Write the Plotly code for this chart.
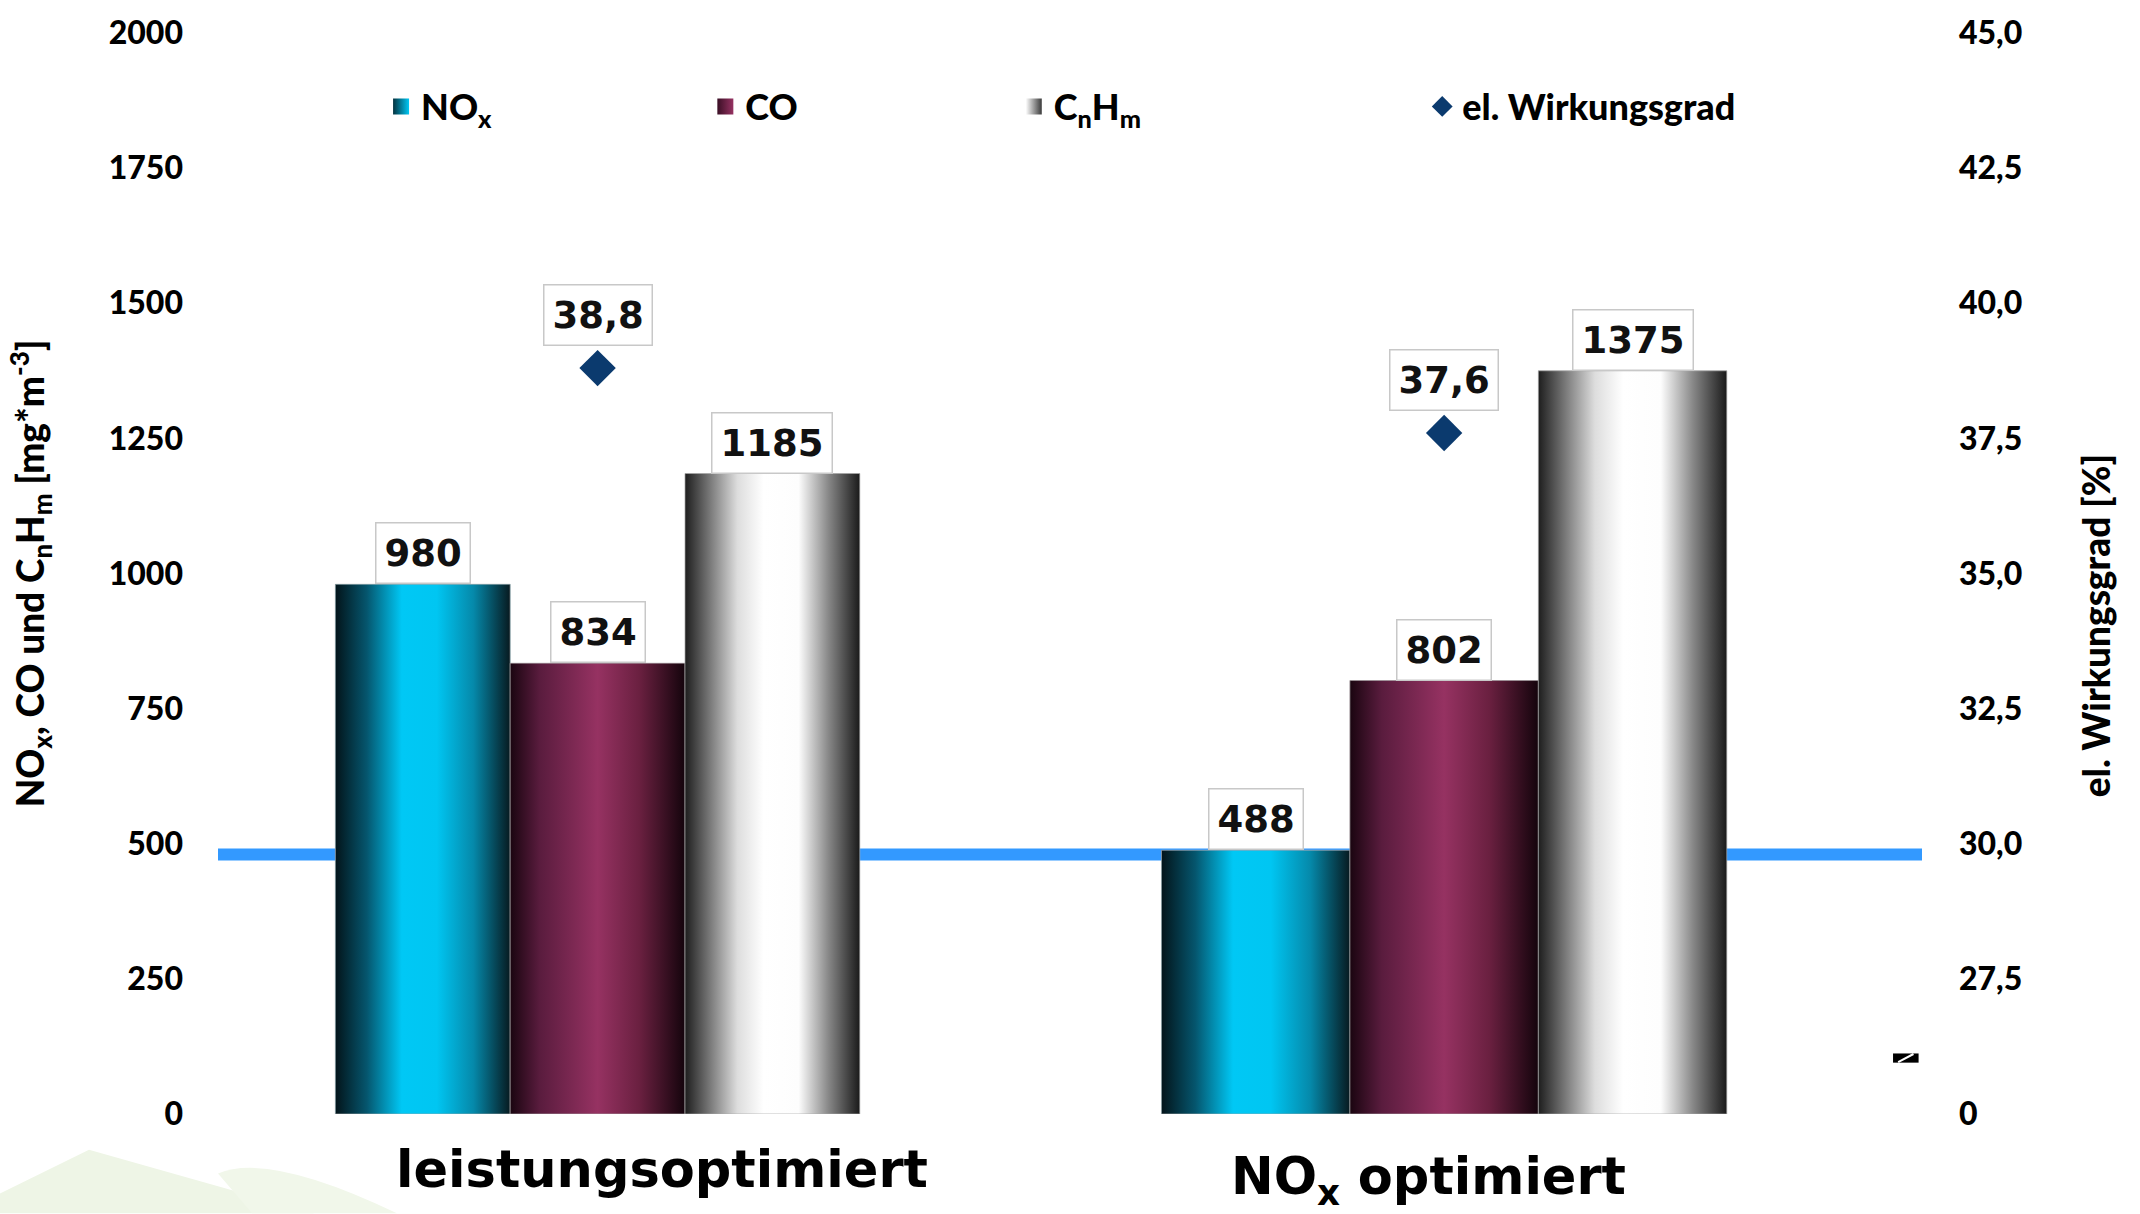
import plotly.graph_objects as go

# ---------------------------------------------------------------- data
GROUPS = ["leistungsoptimiert", "NO<sub>x</sub> optimiert"]
NOX = [980, 488]            # mg*m^-3
CO = [834, 802]             # mg*m^-3
CNHM = [1185, 1375]         # mg*m^-3
WIRKUNGSGRAD = [38.8, 37.6] # %
GRENZWERT = 480             # horizontal reference line, mg*m^-3

LEFT_TICKS = [0, 250, 500, 750, 1000, 1250, 1500, 1750, 2000]
RIGHT_TICKS = [25.0, 27.5, 30.0, 32.5, 35.0, 37.5, 40.0, 42.5, 45.0]
RIGHT_TICK_TEXT = ["0", "27,5", "30,0", "32,5", "35,0", "37,5", "40,0", "42,5", "45,0"]

# ---------------------------------------------------------------- styling
X_RANGE = [-0.4484, 1.5645]
BAR_W = [0.2065, 0.2226]    # bar width per group

TICK_FONT = dict(family="Lato", size=32, color="#000000", weight=900)
TITLE_FONT = dict(family="Lato", size=37, color="#000000", weight=900)
LEGEND_FONT = dict(family="Lato", size=36, color="#000000", weight=900)
VALUE_FONT = dict(family="DejaVu Sans", size=37, color="#111111", weight="bold")
GROUP_FONT = dict(family="DejaVu Sans", size=51, color="#000000", weight="bold")

SERIES = [
    dict(
        name="NO<sub>x</sub>", values=NOX, legend="legend", swatch="#00b4de",
        key=("#04323f", "#00c8f5"),
        scale=[[0.0, "#03141a"], [0.18, "#05566e"], [0.38, "#00c8f5"],
               [0.58, "#00c6f2"], [0.79, "#0589aa"], [1.0, "#071a20"]],
    ),
    dict(
        name="CO", values=CO, legend="legend2", swatch="#7a2850",
        key=("#3a0f25", "#963262"),
        scale=[[0.0, "#1a0510"], [0.17, "#5a1c3e"], [0.5, "#963262"],
               [0.74, "#6a2040"], [1.0, "#14040c"]],
    ),
    dict(
        name="C<sub>n</sub>H<sub>m</sub>", values=CNHM, legend="legend3", swatch="#cfcfcf",
        key=("#ffffff", "#3a3a3a"),
        scale=[[0.0, "#1e1e1e"], [0.14, "#777777"], [0.3, "#dddddd"],
               [0.45, "#ffffff"], [0.65, "#fdfdfd"], [0.82, "#888888"],
               [1.0, "#1a1a1a"]],
    ),
]

fig = go.Figure()

# reference line, drawn first so the bars cover it
fig.add_trace(go.Scatter(
    x=X_RANGE, y=[GRENZWERT, GRENZWERT], mode="lines",
    line=dict(color="#3399ff", width=12), showlegend=False, hoverinfo="skip",
))

group_x = list(range(len(GROUPS)))
annotations = []

for i, s in enumerate(SERIES):
    offsets = [(i - 1.5) * w for w in BAR_W]
    # plain bars (hover), shaded afterwards
    fig.add_trace(go.Bar(
        x=group_x, y=s["values"], width=BAR_W, offset=offsets,
        marker=dict(color=s["swatch"], line=dict(width=0)),
        name=s["name"], legendgroup=s["legend"], showlegend=False,
    ))
    # legend key with a shaded square
    fig.add_trace(go.Scatter(
        x=[None], y=[None], mode="markers", name=s["name"],
        legend=s["legend"], legendgroup=s["legend"],
        marker=dict(symbol="square", size=16, color=s["key"][0],
                    gradient=dict(type="horizontal", color=s["key"][1])),
    ))
    # cylinder-like shading on top of every bar
    for g, v, off, w in zip(group_x, s["values"], offsets, BAR_W):
        xl, xr = g + off, g + off + w
        fig.add_trace(go.Scatter(
            x=[xl, xr, xr, xl, xl], y=[0, 0, v, v, 0],
            mode="lines", fill="toself",
            fillgradient=dict(type="horizontal", colorscale=s["scale"], start=xl, stop=xr),
            line=dict(color="rgba(170,170,170,0.7)", width=1),
            showlegend=False, hoverinfo="skip",
        ))
        annotations.append(dict(
            x=(xl + xr) / 2, y=v, xref="x", yref="y", text=str(v),
            showarrow=False, yanchor="bottom", font=VALUE_FONT,
            bgcolor="white", bordercolor="#c8c8c8", borderwidth=1.5, borderpad=8,
        ))

# electrical efficiency on the secondary axis
fig.add_trace(go.Scatter(
    x=group_x, y=WIRKUNGSGRAD, yaxis="y2", mode="markers",
    marker=dict(symbol="diamond", size=28, color="#0b3a6e"),
    name="el. Wirkungsgrad", legend="legend4",
))
for g, v in zip(group_x, WIRKUNGSGRAD):
    annotations.append(dict(
        x=g, y=v, xref="x", yref="y2", text=f"{v:.1f}".replace(".", ","),
        showarrow=False, yanchor="bottom", yshift=22, font=VALUE_FONT,
        bgcolor="white", bordercolor="#c8c8c8", borderwidth=1.5, borderpad=8,
    ))

# category labels under the groups
for g, label, dx, y in zip(group_x, GROUPS, [64, -16], [-0.051, -0.061]):
    annotations.append(dict(
        x=g, y=y, xref="x", yref="paper", text=label, showarrow=False,
        xshift=dx, yanchor="middle", font=GROUP_FONT,
    ))

# title of the secondary axis
annotations.append(dict(
    x=1.1015, y=0.452, xref="paper", yref="paper", text="el. Wirkungsgrad [%]",
    textangle=-90, showarrow=False, xanchor="center", yanchor="middle", font=TITLE_FONT,
))

# axis break mark on the secondary axis and the faint logo in the corner
shapes = [
    dict(type="rect", xref="paper", yref="y2", x0=0.983, x1=0.998, y0=25.95, y1=26.12,
         fillcolor="black", line=dict(width=0)),
    dict(type="line", xref="paper", yref="y2", x0=0.986, x1=0.995, y0=25.96, y1=26.11,
         line=dict(color="white", width=2)),
    dict(type="path", xref="paper", yref="paper", layer="below",
         path="M -0.128 -0.0735 L -0.0757 -0.0331 L 0.0563 -0.0918 L -0.128 -0.0918 Z",
         fillcolor="#eef5e6", line=dict(width=0)),
    dict(type="path", xref="paper", yref="paper", layer="below",
         path="M 0.0 -0.055 Q 0.03 -0.035 0.105 -0.0918 L 0.02 -0.0918 Z",
         fillcolor="#f1f7ea", line=dict(width=0)),
]

legend_common = dict(orientation="h", yanchor="middle", xanchor="left", y=0.932,
                     font=LEGEND_FONT, bgcolor="rgba(0,0,0,0)", borderwidth=0)

fig.update_layout(
    width=2140, height=1214,
    margin=dict(l=218, r=218, t=25, b=100),
    plot_bgcolor="white", paper_bgcolor="white",
    barmode="overlay",
    xaxis=dict(range=X_RANGE, showticklabels=False, showgrid=False,
               zeroline=False, showline=False, ticks=""),
    yaxis=dict(
        range=[0, 2000], tickvals=LEFT_TICKS, ticktext=[str(t) for t in LEFT_TICKS],
        tickfont=TICK_FONT, showgrid=False, zeroline=False, showline=False,
        ticks="", ticklabelstandoff=34,
        title=dict(text="NO<sub>x</sub>, CO und C<sub>n</sub>H<sub>m</sub> [mg*m<sup>-3</sup>]",
                   font=TITLE_FONT, standoff=52),
    ),
    yaxis2=dict(
        overlaying="y", side="right", range=[25, 45],
        tickvals=RIGHT_TICKS, ticktext=RIGHT_TICK_TEXT, tickfont=TICK_FONT,
        showgrid=False, zeroline=False, showline=False, ticks="", ticklabelstandoff=36,
    ),
    legend=dict(x=0.0957, **legend_common),
    legend2=dict(x=0.286, **legend_common),
    legend3=dict(x=0.467, **legend_common),
    legend4=dict(x=0.7067, **legend_common),
    annotations=annotations,
    shapes=shapes,
    showlegend=True,
)

fig.write_html("out.html")
